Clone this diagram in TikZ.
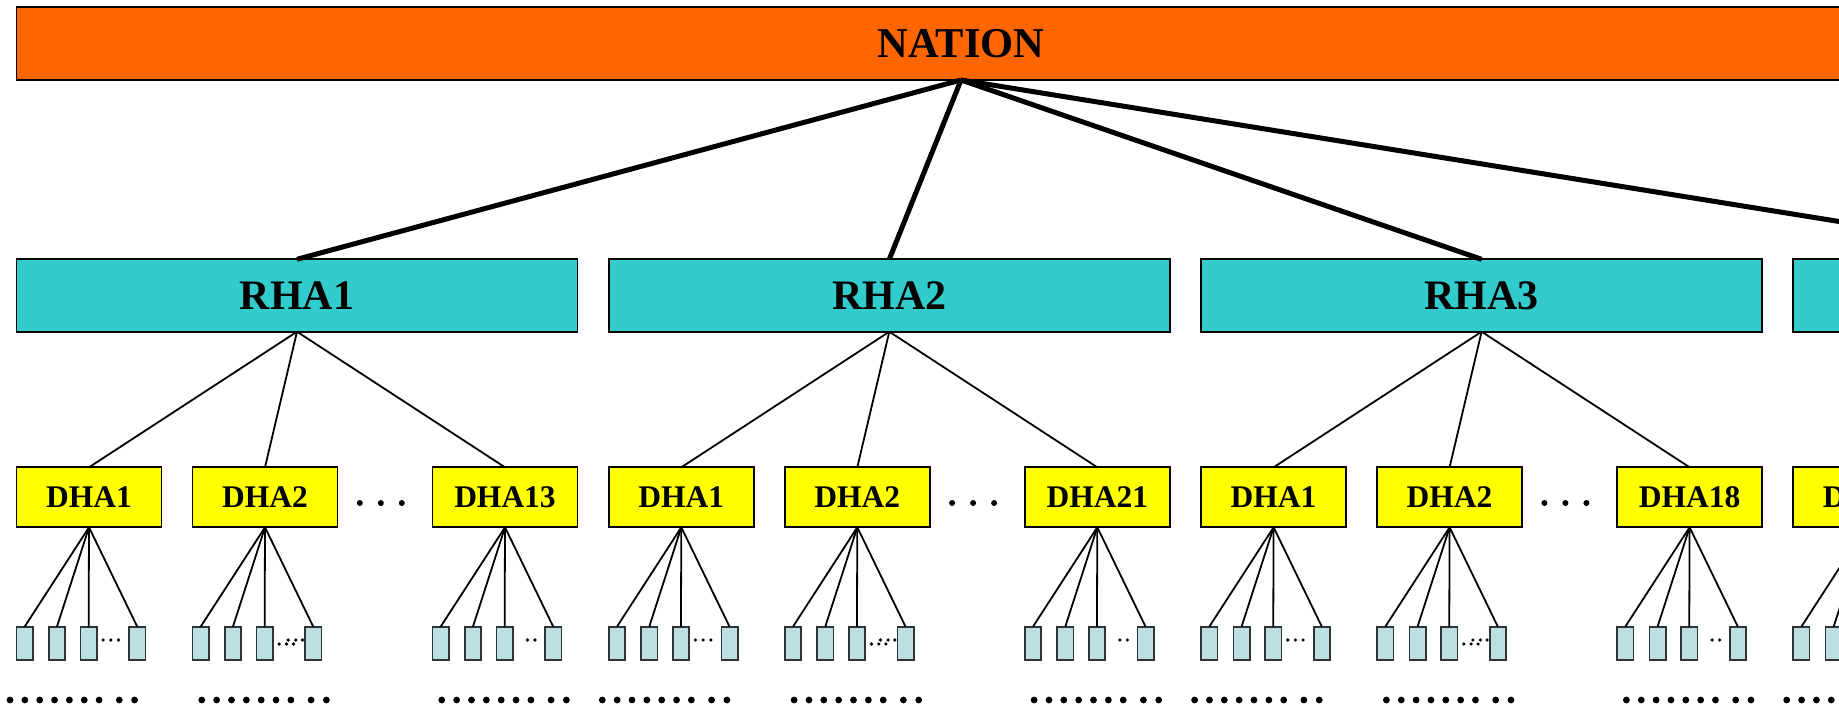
\documentclass[tikz,border=0pt]{standalone}
\usepackage{fontspec}
\setmainfont{Liberation Serif}
\definecolor{natorange}{HTML}{FF6600}
\definecolor{rhateal}{HTML}{33CCCC}
\definecolor{dhayellow}{HTML}{FFFF00}
\definecolor{leafblue}{HTML}{BBE0E3}
\begin{document}
\begin{tikzpicture}[x=1pt,y=-1pt,
  box/.style={draw=black, line width=1.8pt, inner sep=0pt, outer sep=0pt, anchor=north west},
  nationbox/.style={box, fill=natorange, minimum width=1889pt, minimum height=72.7pt, font=\bfseries\fontsize{42.5}{50}\selectfont},
  rhabox/.style={box, fill=rhateal, minimum width=561pt, minimum height=72.4pt, font=\bfseries\fontsize{42}{50}\selectfont},
  dhabox/.style={box, fill=dhayellow, minimum width=145pt, minimum height=60pt, font=\bfseries\fontsize{31.5}{38}\selectfont},
  leafbox/.style={box, draw=black!80, line width=1.7pt, fill=leafblue, minimum width=16.3pt, minimum height=33pt},
  trunk/.style={line width=5pt},
  branch/.style={line width=1.8pt},
  bigdot/.style={fill=black},
]
\useasboundingbox (0,0) rectangle (1839,709);
\fill[white] (0,0) rectangle (1839,709);
\clip (0,0) rectangle (1839,709);

% top level
\node[nationbox] (N) at (16.5,7.3) {NATION};

% regions 1-3
\foreach \i/\a/\b/\c in {1/DHA1/DHA2/DHA13, 2/DHA1/DHA2/DHA21, 3/DHA1/DHA2/DHA18} {
  \pgfmathsetmacro\rx{16.5+592.3*(\i-1)}
  \node[rhabox] (R\i) at (\rx,259.3) {RHA\i};
  \draw[trunk] (N.south) -- (R\i.north);
  \node[dhabox] (D\i1) at (\rx,467.3) {\a};
  \node[dhabox] (D\i2) at ({\rx+176},467.3) {\b};
  \node[dhabox] (D\i3) at ({\rx+416},467.3) {\c};
  \foreach \j in {1,2,3} {
    \draw[branch] (R\i.south) -- (D\i\j.north);
  }
  % dots between DHA2 and last DHA
  \foreach \o in {343.3,364.3,385.3} {
    \fill[bigdot] ({\rx+\o},503) circle[radius=3pt];
  }
  \foreach \j/\off/\bs in {1/0/-6.5, 2/176/9.3, 3/416/9.3} {
    \pgfmathsetmacro\dx{\rx+\off}
    % small ellipsis dots
    \ifnum\j=1
      \foreach \e in {86.6,94.3,102} {\fill ({\dx+\e},640) circle[radius=1.8pt];}
    \fi
    \ifnum\j=2
      \foreach \e in {86.7,94,101} {\fill ({\dx+\e},644) circle[radius=1.8pt];}
      \foreach \e in {95.7,103.3,110} {\fill ({\dx+\e},640) circle[radius=1.8pt];}
    \fi
    \ifnum\j=3
      \foreach \e in {95,102.5} {\fill ({\dx+\e},640) circle[radius=1.8pt];}
    \fi
    \foreach \k/\lx in {1/0,2/32.3,3/64,4/112.6} {
      \node[leafbox] (L\i\j\k) at ({\dx+\lx},626.7) {};
      \draw[branch] (D\i\j.south) -- (L\i\j\k.north);
    }
    % bottom dots
    \foreach \o in {0,14.85,29.7,44.55,59.4,74.25,89.1,109.3,124.6} {
      \fill[bigdot] ({\dx+\bs+\o},700) circle[radius=3.4pt];
    }
  }
}

% region 4 (cut off at the right edge)
\node[rhabox] (R4) at (1793.2,259.3) {};
\draw[trunk] (N.south) -- (R4.north);
\node[dhabox] (D41) at (1793.2,467.3) {DHA1};
\foreach \k/\lx in {1/0,2/32.3,3/64,4/112.6} {
  \node[leafbox] (L41\k) at ({1793.2+\lx},626.7) {};
  \draw[branch] (D41.south) -- (L41\k.north);
}
\foreach \o in {0,14.85,29.7,44.55,59.4,74.25,89.1,109.3,124.6} {
  \fill[bigdot] ({1786.7+\o},700) circle[radius=3.4pt];
}
\end{tikzpicture}
\end{document}
